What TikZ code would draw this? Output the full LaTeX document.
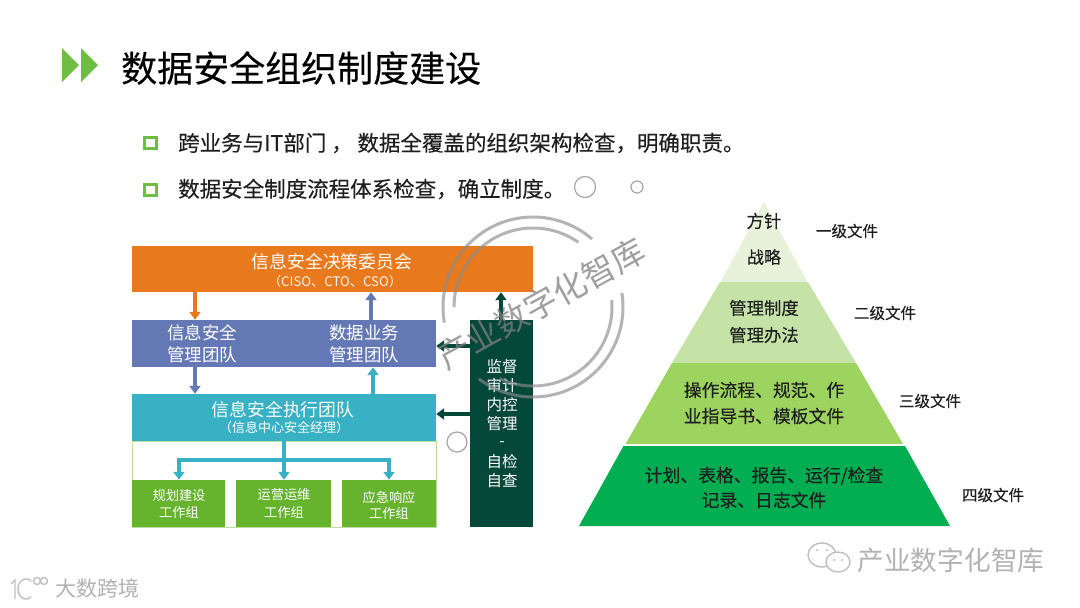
\documentclass[tikz,border=0pt]{standalone}
\usepackage{fontspec}
\setmainfont{Noto Sans CJK SC}[FakeBold=0.22]
\newfontfamily\thinf{Noto Sans CJK SC}
\usetikzlibrary{arrows.meta,calc}
\definecolor{cOrange}{HTML}{E8791D}
\definecolor{cBlue}{HTML}{6478B5}
\definecolor{cTeal}{HTML}{38B1C4}
\definecolor{cGreen}{HTML}{66B32E}
\definecolor{cDark}{HTML}{04483A}
\definecolor{cMark}{HTML}{6FBE44}
\definecolor{cP1}{HTML}{E8F2DA}
\definecolor{cP2}{HTML}{C5E3A6}
\definecolor{cP3}{HTML}{9DD35F}
\definecolor{cP4}{HTML}{00AD50}
\newcommand{\fs}[1]{\fontsize{#1}{#1}\selectfont}
\newcommand{\wmarc}[3]{\draw[wm] plot[domain=#1:#2,samples=70] ({533+#3*cos(\x)},{307-#3*sin(\x)});}
\tikzset{
  box/.style={rectangle,inner sep=0pt,draw=none},
  lab/.style={inner sep=0pt,text=white,font=\thinf},
  blk/.style={inner sep=0pt,text=black!88},
  conn/.style={line width=3.2pt,-{Triangle[length=8pt,width=11pt]}},
  wm/.style={draw=black!45,opacity=.65,line width=3pt},
  ring/.style={draw=black!35,line width=1.2pt,fill=none},
  bullet/.style={rectangle,draw=cMark,line width=3pt,minimum width=12pt,minimum height=11pt,inner sep=0pt},
  foot/.style={inner sep=0pt,text=black!30,font=\thinf},
  footline/.style={draw=black!25,line width=1.4pt},
}
\begin{document}
\begin{tikzpicture}[x=1pt,y=-1pt]
\useasboundingbox (0,0) rectangle (1080,608);
\fill[white] (0,0) rectangle (1080,608);

% title
\fill[cMark] (62,48) -- (79,65) -- (62,82) -- cycle;
\fill[cMark] (81,48) -- (98,65) -- (81,82) -- cycle;
\node[blk,anchor=west,text=black] (title) at (121,68) {\fs{36}数据安全组织制度建设};
\node[bullet] (b1) at (150.5,143) {};
\node[bullet] (b2) at (150.5,189.5) {};
\node[blk,anchor=west] (t1) at (178,143) {\fs{21.5}跨业务与IT部门 ， 数据全覆盖的组织架构检查，明确职责。};
\node[blk,anchor=west] (t2) at (178,189) {\fs{21.5}数据安全制度流程体系检查，确立制度。};

% left diagram
\draw[cGreen!45,line width=.8pt] (132,441) rectangle (436,527);
\node[box,fill=cOrange,minimum width=401pt,minimum height=46pt] (orange) at (332.5,269) {};
\node[box,fill=cBlue,minimum width=304pt,minimum height=47pt] (blue) at (284,343.5) {};
\node[box,fill=cTeal,minimum width=304pt,minimum height=47pt] (teal) at (284,417.5) {};
\node[box,fill=cGreen,minimum width=93pt,minimum height=47pt] (g1) at (178.5,503.5) {};
\node[box,fill=cGreen,minimum width=95pt,minimum height=47pt] (g2) at (283.5,503.5) {};
\node[box,fill=cGreen,minimum width=94pt,minimum height=47pt] (g3) at (389,503.5) {};
\node[box,fill=cDark,minimum width=63pt,minimum height=207pt] (dark) at (501.5,423.5) {};

\node[lab] (o1) at (332,262) {\fs{17.8}信息安全决策委员会};
\node[lab,text=white!92!cOrange] (o2) at (335,281) {\fs{13.2}（CISO、CTO、CSO）};
\node[lab] (bl1) at (202,333) {\fs{17.5}信息安全};
\node[lab] (bl2) at (202,355) {\fs{17.5}管理团队};
\node[lab] (br1) at (364,333) {\fs{17.5}数据业务};
\node[lab] (br2) at (364,355) {\fs{17.5}管理团队};
\node[lab] (te1) at (283,410) {\fs{17.8}信息安全执行团队};
\node[lab] (te2) at (284,428) {\fs{13}（信息中心安全经理）};
\node[lab] (g1a) at (179,495) {\fs{13.2}规划建设};
\node[lab] (g1b) at (179,512) {\fs{13.2}工作组};
\node[lab] (g2a) at (284,495) {\fs{13.2}运营运维};
\node[lab] (g2b) at (284,512) {\fs{13.2}工作组};
\node[lab] (g3a) at (389,497) {\fs{13.2}应急响应};
\node[lab] (g3b) at (389,513) {\fs{13.2}工作组};
\node[lab] (d1) at (502,367) {\fs{15.5}监督};
\node[lab] (d2) at (502,386) {\fs{15.5}审计};
\node[lab] (d3) at (502,405) {\fs{15.5}内控};
\node[lab] (d4) at (502,424) {\fs{15.5}管理};
\node[lab] (d5) at (502,444) {\fs{15.5}-};
\node[lab] (d6) at (502,462) {\fs{15.5}自检};
\node[lab] (d7) at (502,481) {\fs{15.5}自查};

% connectors
\draw[conn,cOrange] (orange.south -| 195,0) -- (blue.north -| 195,0);
\draw[conn,cBlue] (blue.north -| 371,0) -- (orange.south -| 371,0);
\draw[conn,cBlue] (blue.south -| 195,0) -- (teal.north -| 195,0);
\draw[conn,cTeal] (teal.north -| 373,0) -- (blue.south -| 373,0);
\draw[conn,cDark] (dark.north -| 501,0) -- (orange.south -| 501,0);
\draw[conn,cDark] (dark.west |- 0,346) -- (blue.east |- 0,346);
\draw[conn,cDark] (dark.west |- 0,414) -- (teal.east |- 0,414);
\draw[conn,cTeal] (teal.south -| 284,0) -- (g2.north -| 284,0);
\draw[conn,cTeal] (teal.south -| 284,0) |- (179,460) -- (g1.north -| 179,0);
\draw[conn,cTeal] (teal.south -| 284,0) |- (389,460) -- (g3.north -| 389,0);

% pyramid
\fill[cP1] (764,202) -- (807.5,282) -- (720.5,282) -- cycle;
\fill[cP2] (720,282) -- (808,282) -- (856,363) -- (672,363) -- cycle;
\fill[cP3] (672,363) -- (856,363) -- (903,444) -- (625.5,444) -- cycle;
\fill[cP4] (623.5,446) -- (905,446) -- (950,526) -- (579,526) -- cycle;
\node[blk] (p1) at (764,221) {\fs{17.5}方针};
\node[blk] (p2) at (764,257) {\fs{17}战略};
\node[blk] (p3) at (764,308) {\fs{17.4}管理制度};
\node[blk] (p4) at (764,335) {\fs{17.4}管理办法};
\node[blk] (p5) at (764,390) {\fs{17.8}操作流程、规范、作};
\node[blk] (p6) at (764,416) {\fs{17.8}业指导书、模板文件};
\node[blk] (p7) at (764,476) {\fs{17.8}计划、表格、报告、运行/检查};
\node[blk] (p8) at (764,500) {\fs{17.8}记录、日志文件};
\node[blk] (l1) at (847,231) {\fs{15.5}一级文件};
\node[blk] (l2) at (885,313) {\fs{15.5}二级文件};
\node[blk] (l3) at (930,401) {\fs{15.5}三级文件};
\node[blk] (l4) at (993,495) {\fs{15.5}四级文件};

% stray circles
\draw[ring] (585,187) circle[radius=10.5pt];
\draw[ring] (637,187) circle[radius=6pt];
\draw[ring] (457,442) circle[radius=10pt];

% watermark stamp
\wmarc{49}{190}{90}
\wmarc{55}{180}{79}
\wmarc{9}{-127}{90}
\wmarc{5}{-115}{79}
\node[inner sep=0pt,text=black!50,opacity=.75,rotate=29,font=\thinf] (stamp) at (541,304) {\fs{33}产业数字化智库};

% footers
\draw[footline] (11,584) -- (15,580) -- (15,599);
\draw[footline] plot[domain=50:310,samples=30] ({26+8*cos(\x)},{589-10*sin(\x)});
\draw[footline] (37,581) circle[radius=3.5pt];
\draw[footline] (44,581) circle[radius=3.5pt];
\node[foot] (brand) at (97.5,588) {\fs{21}大数跨境};
\draw[footline] (822,555) ellipse[x radius=14pt,y radius=12pt];
\draw[footline,fill=white] (838,562) ellipse[x radius=12pt,y radius=10pt];
\fill[black!25] (817,550) circle[radius=1.2pt] (827,550) circle[radius=1.2pt] (834,560) circle[radius=1.2pt] (842,560) circle[radius=1.2pt];
\node[foot] (wechat) at (951,560) {\fs{26.7}产业数字化智库};
\end{tikzpicture}
\end{document}
